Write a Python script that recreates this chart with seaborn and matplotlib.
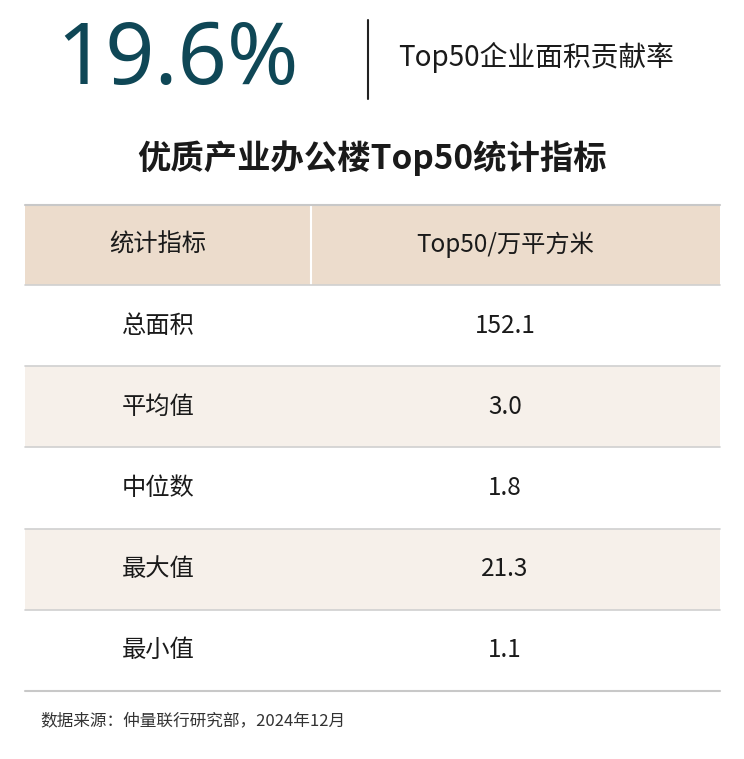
import matplotlib.pyplot as plt
import seaborn as sns

sns.set_theme(style="white", font="Noto Sans CJK SC")

headline = "19.6%"
headline_label = "Top50企业面积贡献率"
title = "优质产业办公楼Top50统计指标"
header = ["统计指标", "Top50/万平方米"]
metrics = ["总面积", "平均值", "中位数", "最大值", "最小值"]
values = ["152.1", "3.0", "1.8", "21.3", "1.1"]
source = "数据来源：仲量联行研究部，2024年12月"

fig = plt.figure(figsize=(7.44, 7.59), dpi=100)
ax = fig.add_axes([0, 0, 1, 1])
ax.set_xlim(0, 744)
ax.set_ylim(759, 0)
ax.axis("off")

ax.text(56, 62, headline, fontsize=62, color="#0f4756", va="center", ha="left",
        fontfamily="Noto Sans", fontweight="medium")
ax.plot([368, 368], [20, 99], color="#222222", lw=1.5)
ax.text(398, 57, headline_label, fontsize=20, color="#1a1a1a", va="center", ha="left",
        fontweight="medium")
ax.text(372, 158, title, fontsize=24, fontweight="bold", color="#1a1a1a", va="center", ha="center")

left, right, split = 25, 720, 311
col_x = [158, 505]
top, hh, rh = 205, 80, 81.2

# header
ax.add_patch(plt.Rectangle((left, top), right - left, hh, color="#ecdccc", lw=0))
ax.plot([split, split], [top, top + hh], color="white", lw=1.5)
ax.plot([left, right], [top, top], color="#c8c8c8", lw=1.5)
for x, h in zip(col_x, header):
    ax.text(x, top + hh / 2, h, fontsize=17.5, color="#1a1a1a", va="center", ha="center",
            fontweight="medium")

for i, (m, v) in enumerate(zip(metrics, values)):
    y0 = top + hh + i * rh
    if i % 2 == 1:
        ax.add_patch(plt.Rectangle((left, y0), right - left, rh, color="#f6f0ea", lw=0))
    ax.plot([left, right], [y0, y0], color="#d0d0d0", lw=1.2)
    ax.text(col_x[0], y0 + rh / 2, m, fontsize=17.5, color="#1a1a1a", va="center", ha="center",
            fontweight="medium")
    ax.text(col_x[1], y0 + rh / 2, v, fontsize=17.5, color="#1a1a1a", va="center", ha="center",
            fontweight="medium")
ybot = top + hh + len(metrics) * rh
ax.plot([left, right], [ybot, ybot], color="#c8c8c8", lw=1.5)

ax.text(40, 721, source, fontsize=12, color="#333333", style="italic", va="center", ha="left")

fig.savefig("out.png", dpi=100, facecolor="white")
